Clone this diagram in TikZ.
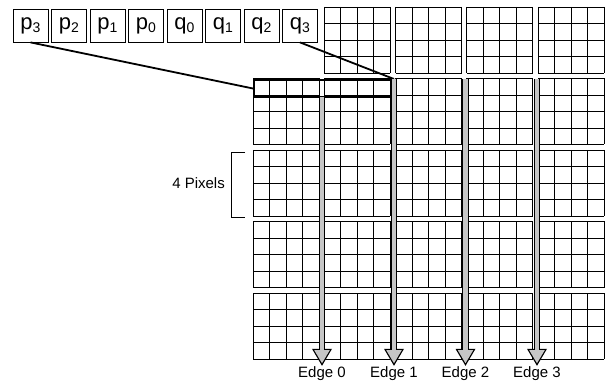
\documentclass[tikz,border=0pt]{standalone}
\usepackage{fontspec}
\setmainfont{Liberation Sans}
\usetikzlibrary{arrows.meta}

\begin{document}
\begin{tikzpicture}[x=1pt,y=-1pt,
    sample/.style={draw,line width=0.8pt,minimum width=35pt,minimum height=33pt,inner sep=0pt,font=\fontsize{22}{22}\selectfont},
    pix/.style={line width=0.8pt},
    lbl/.style={font=\fontsize{15}{17}\selectfont,inner sep=1pt}]
  \useasboundingbox (0,0) rectangle (611,385);

  % 4x4 pixel blocks, no block in the top left corner
  \foreach \c in {0,...,4}
    \foreach \r in {0,...,4} {
      \ifnum\c\r=0 \else
        \pgfmathsetmacro\bx{253+71.25*\c}
        \pgfmathsetmacro\by{7+71.5*\r}
        \foreach \i in {0,...,4} {
          \draw[pix] (\bx+16.5*\i,\by) -- ++(0,66);
          \draw[pix] (\bx,\by+16.5*\i) -- ++(66,0);
        }
      \fi
    }

  % the eight samples across the edge
  \foreach \s/\n [count=\i from 0] in {p/3,p/2,p/1,p/0,q/0,q/1,q/2,q/3}
    \node[sample] (\s\n) at (30.5+38.5*\i,25.5) {\s\raisebox{-3.5pt}{\fontsize{14}{14}\selectfont\n}};

  % one row of samples in the blocks
  \node[draw,line width=2pt,minimum width=139pt,minimum height=17pt,inner sep=0pt,anchor=north west] (prow) at (253,79) {};
  \draw[line width=1.8pt] (p3.south) -- (prow.west);
  \draw[line width=1.8pt] (q3.south) -- (prow.north east);

  % vertical edges
  \foreach \k/\ex/\ey in {0/322/97,1/394/79,2/465.5/79,3/537/79} {
    \node[lbl] (edge\k) at (\ex,374) {Edge \k};
    \coordinate (top\k) at (\ex,\ey);
    \draw[line width=6.4pt,-{Triangle[length=17pt,width=20pt,line width=0pt]}] (top\k) -- (edge\k.north);
    \draw[line width=4.2pt,gray!45,shorten >=2.6pt,-{Triangle[length=13pt,width=15.5pt,line width=0pt]}] (top\k) -- (edge\k.north);
  }

  \node[lbl,anchor=east] (pixels) at (226,183) {4 Pixels};
  \draw[line width=0.8pt] (245,152) -- (231,152) -- (231,217) -- (245,217);
\end{tikzpicture}
\end{document}
